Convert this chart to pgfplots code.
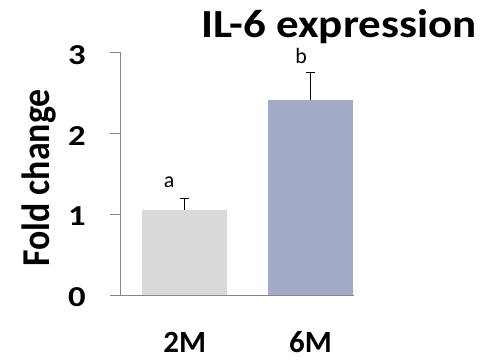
\documentclass[border=0pt]{standalone}
\usepackage{pgfplots}
\pgfplotsset{compat=1.18}
\usepackage{fontspec}
\setmainfont{Carlito}
\definecolor{bargray}{RGB}{217,217,217}
\definecolor{barblue}{RGB}{162,170,200}
\definecolor{axgray}{RGB}{134,134,134}
\begin{document}
\begin{tikzpicture}[x=1bp,y=1bp]
\useasboundingbox (0,0) rectangle (485,363);
\begin{axis}[
  at={(120.7bp,67.7bp)}, anchor=south west,
  scale only axis, width=233.3bp, height=242.6bp,
  xmin=-0.509, xmax=1.346, ymin=0, ymax=3,
  axis x line=bottom, axis y line=left,
  axis line style={axgray, line width=1pt, -},
  xtick={0,1}, xticklabels={2M,6M},
  x tick style={draw=none},
  ytick={0,1,2,3},
  y tick style={axgray, line width=1pt},
  tick align=outside, major tick length=10.7bp,
  yticklabel style={font=\fontsize{29}{29}\selectfont\bfseries, anchor=east, xshift=-20bp, xscale=1.2, yshift=-2bp},
  xticklabel style={font=\fontsize{31}{31}\selectfont\bfseries, anchor=base, yshift=-46bp, text depth=0pt},
  /pgf/number format/assume math mode=true,
  clip=false,
]
\addplot[ybar, bar width=84.7bp, fill=bargray, draw=none,
  error bars/.cd, y dir=plus, y explicit,
  error bar style={black, line width=1pt}, error mark options={black, line width=1pt, mark size=4.5bp, rotate=90}]
  coordinates {(0,1.053) +- (0,0.147)};
\addplot[ybar, bar width=84.7bp, fill=barblue, draw=none,
  error bars/.cd, y dir=plus, y explicit,
  error bar style={black, line width=1pt}, error mark options={black, line width=1pt, mark size=4.5bp, rotate=90}]
  coordinates {(1,2.41) +- (0,0.35)};
\node[font=\fontsize{22}{22}\selectfont] at (axis cs:-0.125,1.40) {a};
\node[font=\fontsize{22}{22}\selectfont] at (axis cs:0.925,2.96) {b};
\end{axis}
\node[font=\fontsize{40}{40}\selectfont\bfseries, xscale=1.13] at (339,336) {IL-6 expression};
\node[font=\fontsize{36}{36}\selectfont\bfseries, rotate=90, yscale=1.1] at (39,185) {Fold change};
\end{tikzpicture}
\end{document}
